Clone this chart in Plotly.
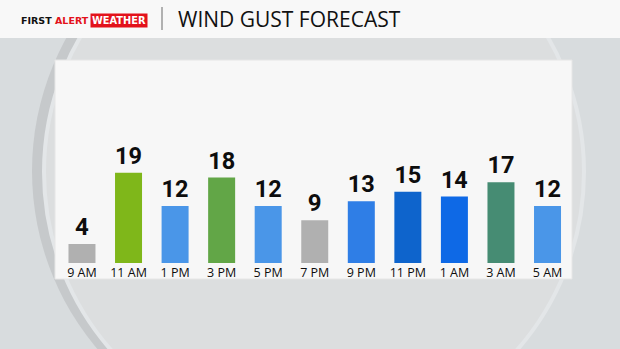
import plotly.graph_objects as go

# ---- data ----
times = ["9 AM", "11 AM", "1 PM", "3 PM", "5 PM", "7 PM", "9 PM", "11 PM", "1 AM", "3 AM", "5 AM"]
gusts = [4, 19, 12, 18, 12, 9, 13, 15, 14, 17, 12]
bar_colors = ["#b0b0b0", "#7fb71a", "#4a96e8", "#62a647", "#4a96e8", "#b0b0b0",
              "#2f7ee6", "#0e64cc", "#0e69e6", "#468c73", "#4a96e8"]
title_text = "WIND GUST FORECAST"

W, H = 620, 349
def px(x): return x / W
def py(y): return 1 - y / H

fig = go.Figure()
fig.add_trace(go.Bar(
    x=times, y=gusts,
    marker=dict(color=bar_colors, line=dict(width=0)),
    text=[str(v) for v in gusts], textposition="outside",
    textfont=dict(family="Roboto", size=24, color="#0d0d0d", weight="bold"),
    cliponaxis=False, hoverinfo="skip",
))

shapes = [
    # circle shadow and circle
    dict(type="circle", xref="paper", yref="paper", layer="below",
         x0=px(307 - 275), x1=px(307 + 275), y0=py(171 + 275), y1=py(171 - 275),
         fillcolor="#c6c9cb", line=dict(width=0)),
    dict(type="circle", xref="paper", yref="paper", layer="below",
         x0=px(314 - 270), x1=px(314 + 270), y0=py(172 + 270), y1=py(172 - 270),
         fillcolor="#dcdedf", line=dict(color="#e3e6e8", width=4)),
    # header bar
    dict(type="rect", xref="paper", yref="paper", layer="below",
         x0=0, x1=1, y0=py(38), y1=1, fillcolor="#f8f8f8", line=dict(width=0)),
    # divider
    dict(type="line", xref="paper", yref="paper", layer="below",
         x0=px(162), x1=px(162), y0=py(7), y1=py(30), line=dict(color="#9a9a9a", width=1.5)),
    # white panel
    dict(type="rect", xref="paper", yref="paper", layer="below",
         x0=px(55), x1=px(572), y0=py(279), y1=py(60), fillcolor="#f7f7f7",
         line=dict(color="#e6e6e6", width=1)),
]

annotations = [
    dict(xref="paper", yref="paper", x=px(19), y=py(20), xanchor="left", yanchor="middle",
         text="<b>FIRST <span style='color:#e3121b'>ALERT</span></b>", showarrow=False,
         font=dict(family="DejaVu Sans", size=9.5, color="#111111")),
    dict(xref="paper", yref="paper", x=px(90), y=py(20), xanchor="left", yanchor="middle",
         text="WEATHER", showarrow=False, bgcolor="#e3121b", borderpad=1,
         font=dict(family="DejaVu Sans", size=9.8, color="#ffffff", weight="bold")),
    dict(xref="paper", yref="paper", x=px(176), y=py(19), xanchor="left", yanchor="middle",
         text=title_text, showarrow=False,
         font=dict(family="Open Sans", size=21, color="#111111", weight=500)),
]

fig.update_layout(
    width=W, height=H, autosize=False,
    margin=dict(l=0, r=0, t=0, b=0),
    paper_bgcolor="#d8dcde", plot_bgcolor="rgba(0,0,0,0)",
    showlegend=False, bargap=0.42,
    shapes=shapes, annotations=annotations,
    xaxis=dict(domain=[px(58.7), px(570.8)], showgrid=False, zeroline=False, showline=False,
               ticks="", tickfont=dict(family="Open Sans", size=12.5, color="#0d0d0d", weight=500),
               fixedrange=True),
    yaxis=dict(domain=[py(263), py(60)], range=[0, 42.7], visible=False, fixedrange=True),
)

fig.write_html("out.html", config={"displayModeBar": False})
